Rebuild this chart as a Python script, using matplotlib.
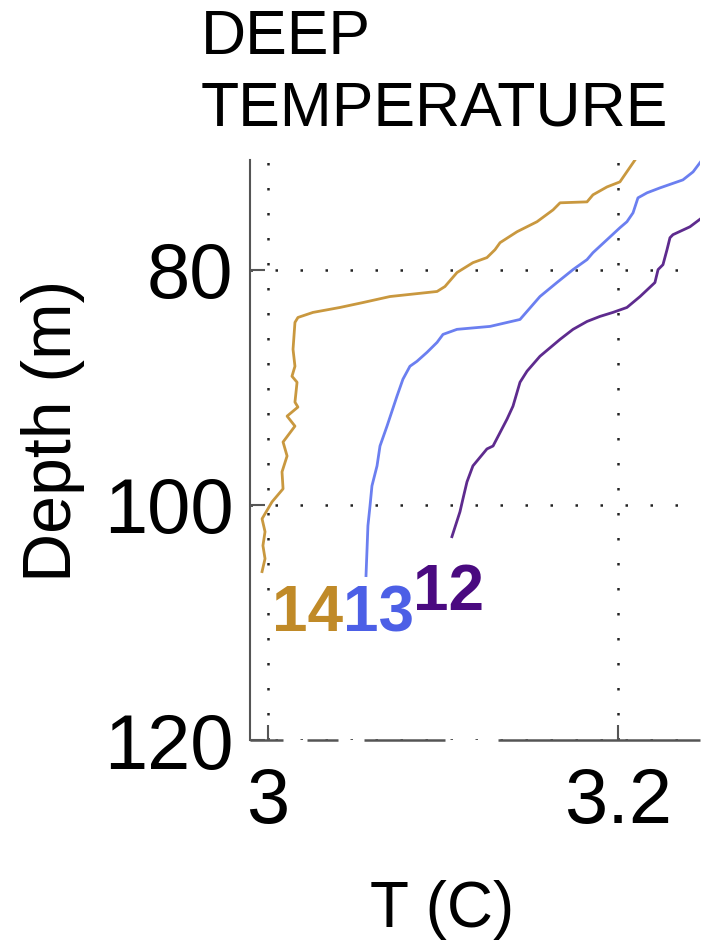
import numpy as np
import matplotlib
matplotlib.use("Agg")
import matplotlib.pyplot as plt

plt.rcParams['font.family'] = ['Liberation Sans', 'DejaVu Sans']

# --- profile data (temperature in C, depth in m) ---
t14 = [3.2097, 3.2011, 3.1937, 3.1857, 3.1823, 3.1669, 3.1629, 3.1537, 3.1423,
       3.1326, 3.1297, 3.1251, 3.1171, 3.1080, 3.1011, 3.0966, 3.0697, 3.0543,
       3.0411, 3.0257, 3.0171, 3.0154, 3.0143, 3.0154, 3.0137, 3.0166, 3.0154,
       3.0171, 3.0109, 3.0154, 3.0086, 3.0109, 3.0080, 3.0086, 3.0023, 2.9966,
       2.9983, 2.9971, 2.9983, 2.9966]
d14 = [70.68, 72.54, 72.97, 73.64, 74.24, 74.32, 74.92, 75.93, 76.78,
       77.71, 78.31, 78.98, 79.41, 80.25, 81.44, 81.86, 82.29, 82.80,
       83.22, 83.64, 84.07, 84.49, 86.78, 88.22, 89.07, 89.58, 91.27,
       91.69, 92.46, 93.31, 94.66, 95.85, 97.20, 98.64, 99.75, 101.19,
       102.29, 103.47, 104.58, 105.68]

t13 = [3.2480, 3.2429, 3.2371, 3.2240, 3.2166, 3.2114, 3.2086, 3.2051, 3.2011,
       3.1937, 3.1857, 3.1823, 3.1743, 3.1651, 3.1554, 3.1440, 3.1269, 3.1080,
       3.1000, 3.0966, 3.0909, 3.0851, 3.0811, 3.0771, 3.0737, 3.0680, 3.0640,
       3.0623, 3.0594, 3.0583, 3.0571, 3.0566, 3.0560]
d13 = [70.68, 71.69, 72.37, 73.05, 73.47, 73.90, 75.17, 75.93, 76.44,
       77.46, 78.56, 79.15, 80.00, 81.10, 82.29, 84.24, 84.83, 85.08,
       85.51, 86.19, 87.03, 87.80, 88.22, 89.32, 90.76, 93.31, 95.00,
       96.69, 98.39, 100.08, 101.78, 103.73, 106.02]

t12 = [3.2480, 3.2411, 3.2314, 3.2297, 3.2280, 3.2257, 3.2229, 3.2211, 3.2126,
       3.2051, 3.1971, 3.1897, 3.1823, 3.1743, 3.1669, 3.1554, 3.1480, 3.1440,
       3.1400, 3.1366, 3.1286, 3.1251, 3.1171, 3.1137, 3.1114, 3.1097, 3.1051]
d12 = [75.59, 76.36, 77.03, 77.29, 78.31, 79.58, 80.00, 81.10, 82.29,
       83.22, 83.64, 83.98, 84.41, 85.08, 85.93, 87.37, 88.64, 89.58,
       91.61, 92.71, 95.00, 95.25, 96.69, 98.05, 99.49, 100.59, 102.71]

x_ticks = [3, 3.2]
x_ticklabels = ['3', '3.2']
y_ticks = [80, 100, 120]
y_ticklabels = ['80', '100', '120']

# profile names and where they are written (T, depth)
names = ['14', '13', '12']
name_pos = [(3.0023, 110.76), (3.0429, 110.76), (3.0829, 108.98)]

line_colors = ['#c9983f', '#6b7ff0', '#5e2b8e']
name_colors = ['#c08a28', '#4c5fe6', '#4a0a80']

fig = plt.figure(figsize=(7.09, 9.40), dpi=100)
ax = fig.add_axes([250 / 709, 1 - 740 / 940, 450 / 709, 580 / 940])

for t, d, c in zip([t14, t13, t12], [d14, d13, d12], line_colors):
    ax.plot(t, d, color=c, lw=2.0)

for name, (tx, dy), c in zip(names, name_pos, name_colors):
    ax.text(tx, dy, name, color=c, fontsize=46, fontweight='bold',
            ha='left', va='baseline')

ax.set_xlim(2.98971, 3.24686)
ax.set_ylim(119.8, 70.68)
ax.set_xticks(x_ticks)
ax.set_xticklabels(x_ticklabels)
ax.set_yticks(y_ticks)
ax.set_yticklabels(y_ticklabels)
ax.tick_params(direction='in', length=11, width=1.5, colors='#555555',
               labelcolor='black', labelsize=56)
ax.tick_params(axis='y', pad=12)
ax.tick_params(axis='x', pad=19)

ax.grid(True, color='#222222', linestyle=(0, (1, 9)), lw=1.8)

for side in ['top', 'right', 'bottom']:
    ax.spines[side].set_visible(False)
ax.spines['left'].set_color('#555555')
ax.spines['left'].set_linewidth(1.5)

# broken bottom axis line as in the source image (axes fractions)
gaps_start = [0.0, 0.127, 0.253, 0.551]
gaps_end = [0.073, 0.196, 0.433, 1.0]
for a, b in zip(gaps_start, gaps_end):
    ax.plot([a, b], [0, 0], transform=ax.transAxes, color='#555555',
            lw=1.8, solid_capstyle='butt', clip_on=False)

fig.text(201 / 709, 1 - 8 / 940, 'DEEP\nTEMPERATURE', fontsize=45,
         ha='left', va='top', linespacing=1.27)
fig.text(442 / 709, 1 - 927 / 940, 'T (C)', fontsize=46,
         ha='center', va='baseline')
fig.text(53 / 709, 1 - 431 / 940, 'Depth (m)', fontsize=49, rotation=90,
         ha='center', va='center')

fig.savefig('out.png', dpi=100)
